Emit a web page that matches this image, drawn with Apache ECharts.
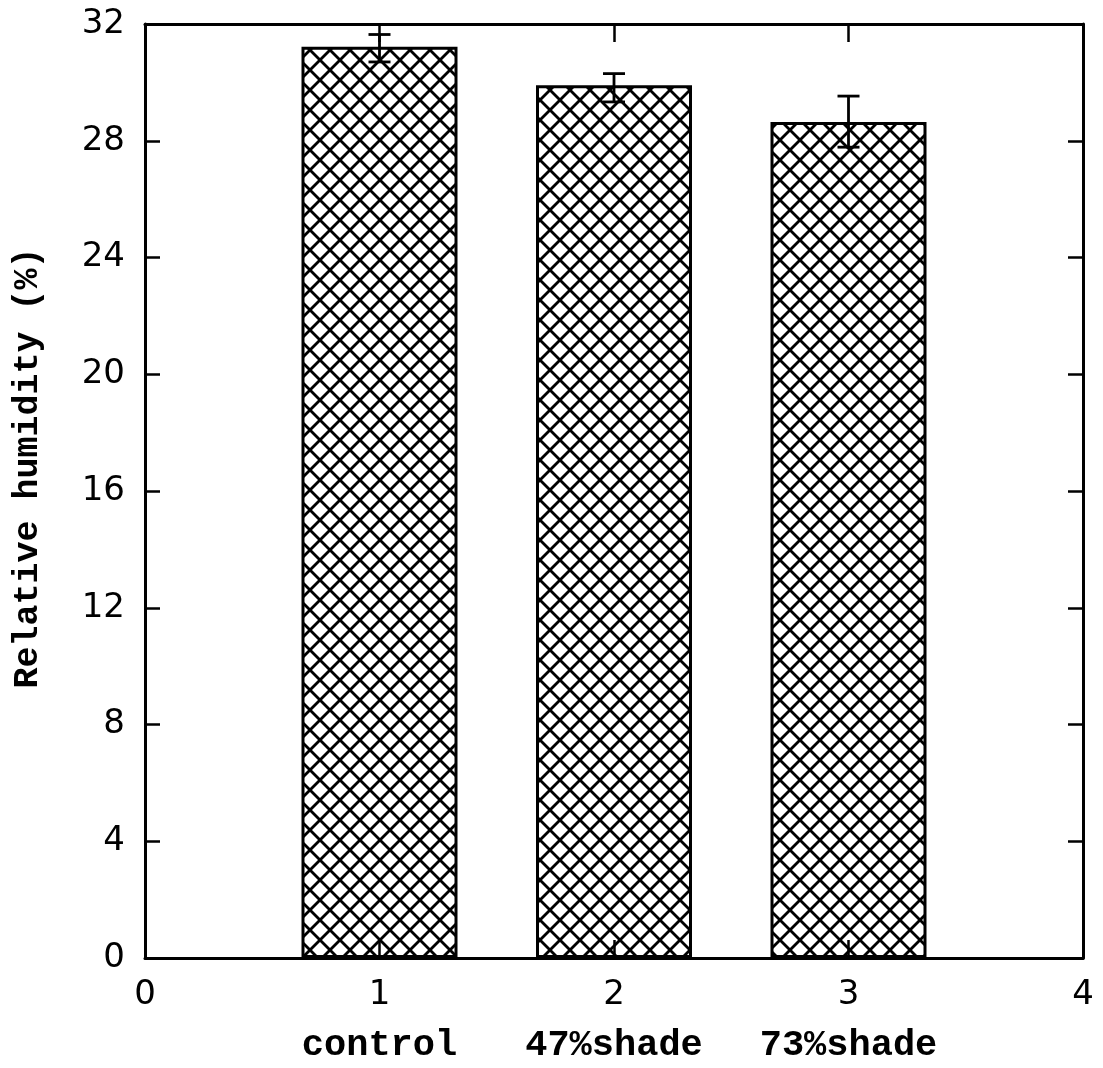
<!DOCTYPE html>
<html><head><meta charset="utf-8">
<script src="https://cdn.jsdelivr.net/npm/echarts@6/dist/echarts.min.js"></script>
<style>html,body{margin:0;padding:0;background:#fff}#c{width:1103px;height:1068px}</style>
</head><body><div id="c"></div>
<script>
// ---- data ----
const positions = [1, 2, 3];
const categories = ['control', '47%shade', '73%shade'];
const means = [31.22, 29.9, 28.64];
const errLow = [30.7, 29.33, 27.78];
const errHigh = [31.64, 30.3, 29.53];
const xTickMin = 0, xTickMax = 4, xTickStep = 1;
const yTickMin = 0, yTickMax = 32, yTickStep = 4;
const yTitle = 'Relative humidity (%)';

// ---- crosshatch pattern ----
function hatch() {
  const s = 20, c = document.createElement('canvas');
  c.width = s; c.height = s;
  const g = c.getContext('2d');
  g.fillStyle = '#fff'; g.fillRect(0, 0, s, s);
  g.strokeStyle = '#000'; g.lineWidth = 2.8; g.lineCap = 'butt';
  for (const k of [-s, 0, s]) {
    g.beginPath(); g.moveTo(-5, -5 + k); g.lineTo(s + 5, s + 5 + k); g.stroke();
    g.beginPath(); g.moveTo(s + 5, -5 + k); g.lineTo(-5, s + 5 + k); g.stroke();
  }
  return c;
}

const chart = echarts.init(document.getElementById('c'), null, {renderer: 'canvas'});
const axisCommon = {
  z: 3,
  axisLine: {show: true, onZero: false, lineStyle: {color: '#000', width: 3}},
  splitLine: {show: false}
};
const tick = (len) => ({show: true, inside: true, length: len, lineStyle: {color: '#000', width: 2.5}});
const numFont = {fontFamily: 'DejaVu Sans', fontSize: 34, color: '#000'};
const monoFont = {fontFamily: 'Liberation Mono', fontWeight: 'bold', color: '#000'};

chart.setOption({
  backgroundColor: '#fff',
  animation: false,
  grid: {left: 145, right: 20, top: 24, bottom: 110, containLabel: false},
  xAxis: [
    Object.assign({
      type: 'value', min: xTickMin, max: xTickMax, interval: xTickStep, position: 'bottom',
      axisTick: tick(18),
      axisLabel: {
        margin: 17,
        formatter: v => {
          const i = positions.indexOf(v);
          return i >= 0 ? '{n|' + v + '}\n{c|' + categories[i] + '}' : '{n|' + v + '}';
        },
        rich: {
          n: Object.assign({lineHeight: 40}, numFont),
          c: Object.assign({fontSize: 37, lineHeight: 62}, monoFont)
        }
      }
    }, axisCommon),
    Object.assign({
      type: 'value', min: xTickMin, max: xTickMax, interval: xTickStep, position: 'top',
      axisTick: tick(18), axisLabel: {show: false}
    }, axisCommon)
  ],
  yAxis: [
    Object.assign({
      type: 'value', min: yTickMin, max: yTickMax, interval: yTickStep, position: 'left',
      axisTick: tick(15),
      axisLabel: Object.assign({margin: 20}, numFont),
      name: yTitle, nameLocation: 'middle', nameGap: 99, nameRotate: 90,
      nameTextStyle: Object.assign({fontSize: 35, padding: [0, 0, 0, 46]}, monoFont)
    }, axisCommon),
    Object.assign({
      type: 'value', min: yTickMin, max: yTickMax, interval: yTickStep, position: 'right',
      axisTick: tick(15), axisLabel: {show: false}
    }, axisCommon)
  ],
  series: [
    {
      type: 'bar', xAxisIndex: 0, yAxisIndex: 0, barWidth: 156,
      data: positions.map((p, i) => [p, means[i]]),
      itemStyle: {color: {image: hatch(), repeat: 'repeat'}, borderColor: '#000', borderWidth: 3},
      z: 2
    },
    {
      type: 'custom', xAxisIndex: 0, yAxisIndex: 0, z: 5,
      data: positions.map((p, i) => [p, errLow[i], errHigh[i]]),
      renderItem: (params, api) => {
        const lo = api.coord([api.value(0), api.value(1)]);
        const hi = api.coord([api.value(0), api.value(2)]);
        const w = 11;
        const st = {stroke: '#000', lineWidth: 2.8};
        return {type: 'group', children: [
          {type: 'line', shape: {x1: hi[0], y1: hi[1], x2: lo[0], y2: lo[1]}, style: st},
          {type: 'line', shape: {x1: hi[0] - w, y1: hi[1], x2: hi[0] + w, y2: hi[1]}, style: st},
          {type: 'line', shape: {x1: lo[0] - w, y1: lo[1], x2: lo[0] + w, y2: lo[1]}, style: st}
        ]};
      }
    }
  ]
});
</script></body></html>
